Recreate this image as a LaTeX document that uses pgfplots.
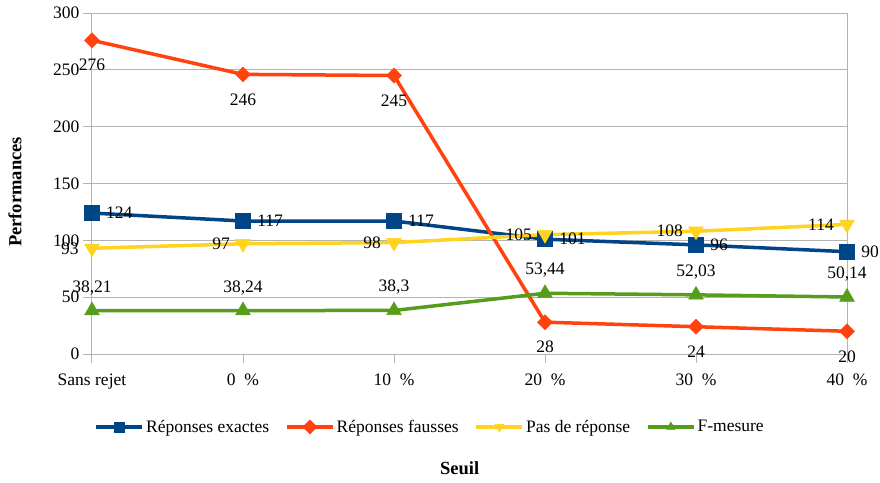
\documentclass[border=0pt]{standalone}
\usepackage{fontspec}
\setmainfont{Liberation Serif}
\usepackage{pgfplots}
\pgfplotsset{compat=1.18}
\definecolor{cblue}{HTML}{004586}
\definecolor{corange}{HTML}{FF420E}
\definecolor{cyellow}{HTML}{FFD320}
\definecolor{cgreen}{HTML}{579D1C}
\definecolor{cgrid}{HTML}{B3B3B3}
\newcommand{\lf}{\fontsize{17.5}{20}\selectfont}
\begin{document}
\begin{tikzpicture}[x=1pt,y=1pt]
\useasboundingbox (-92,-128) rectangle (788,354);
\begin{axis}[
 at={(0,0)}, anchor=south west,
 scale only axis, width=755pt, height=341pt,
 xmin=0, xmax=5, ymin=0, ymax=300,
 xtick={0,...,5}, xticklabels={Sans rejet, 0~~\%, 10~~\%, 20~~\%, 30~~\%, 40~~\%},
 ytick={0,50,...,300},
 ymajorgrids, grid style={cgrid, line width=1pt},
 axis line style={cgrid, line width=1pt},
 tick style={cgrid, line width=1pt},
 tick align=outside, major tick length=9pt,
 xtick pos=lower, ytick pos=left,
 /pgf/number format/assume math mode=true,
 ticklabel style={font=\lf, text=black},
 xticklabel style={yshift=-7pt},
 xlabel={\textbf{Seuil}}, ylabel={\textbf{Performances}},
 label style={font=\fontsize{18.5}{20}\selectfont},
 xlabel style={at={(axis description cs:0.487,-0.334)}, anchor=center},
 ylabel style={at={(axis description cs:-0.102,0.475)}, anchor=center, rotate=0},
 legend style={at={(axis description cs:0.448,-0.214)}, anchor=center, draw=none, font=\lf,
   /tikz/every even column/.append style={column sep=14pt}},
 legend columns=4,
 legend image code/.code={\draw[#1, mark repeat=2, mark phase=2] plot coordinates {(0pt,0pt) (23pt,0pt) (46pt,0pt)};},
 legend image post style={mark size=5pt},
 point meta=explicit symbolic,
 nodes near coords,
 every node near coord/.append style={font=\lf, text=black, inner sep=0pt},
]
\addplot[cblue, line width=3.5pt, mark=square*, mark size=7.5pt, mark options={solid, line width=0.5pt},
  every node near coord/.append style={anchor=west, xshift=14pt}]
  coordinates {(0,124)[124] (1,117)[117] (2,117)[117] (3,101)[101] (4,96)[96] (5,90)[90]};
\addlegendentry{Réponses exactes}
\addplot[corange, line width=3.5pt, mark=square*, mark size=5.3pt, mark options={solid, rotate=45, line width=0.5pt},
  every node near coord/.append style={anchor=center, yshift=-25pt}]
  coordinates {(0,276)[276] (1,246)[246] (2,245)[245] (3,28)[28] (4,24)[24] (5,20)[20]};
\addlegendentry{Réponses fausses}
\addplot[cyellow, line width=3.5pt, mark=triangle*, mark size=8.5pt, mark options={solid, rotate=180, line width=0.5pt},
  every node near coord/.append style={anchor=east, xshift=-13pt}]
  coordinates {(0,93)[93] (1,97)[97] (2,98)[98] (3,105)[105] (4,108)[108] (5,114)[114]};
\addlegendentry{Pas de réponse}
\addplot[cgreen, line width=3.5pt, mark=triangle*, mark size=8.5pt, mark options={solid, line width=0.5pt},
  every node near coord/.append style={anchor=center, yshift=23pt}]
  coordinates {(0,38.21)[{38,21}] (1,38.24)[{38,24}] (2,38.3)[{38,3}] (3,53.44)[{53,44}] (4,52.03)[{52,03}] (5,50.14)[{50,14}]};
\addlegendentry{F-mesure}
\end{axis}
\end{tikzpicture}
\end{document}
